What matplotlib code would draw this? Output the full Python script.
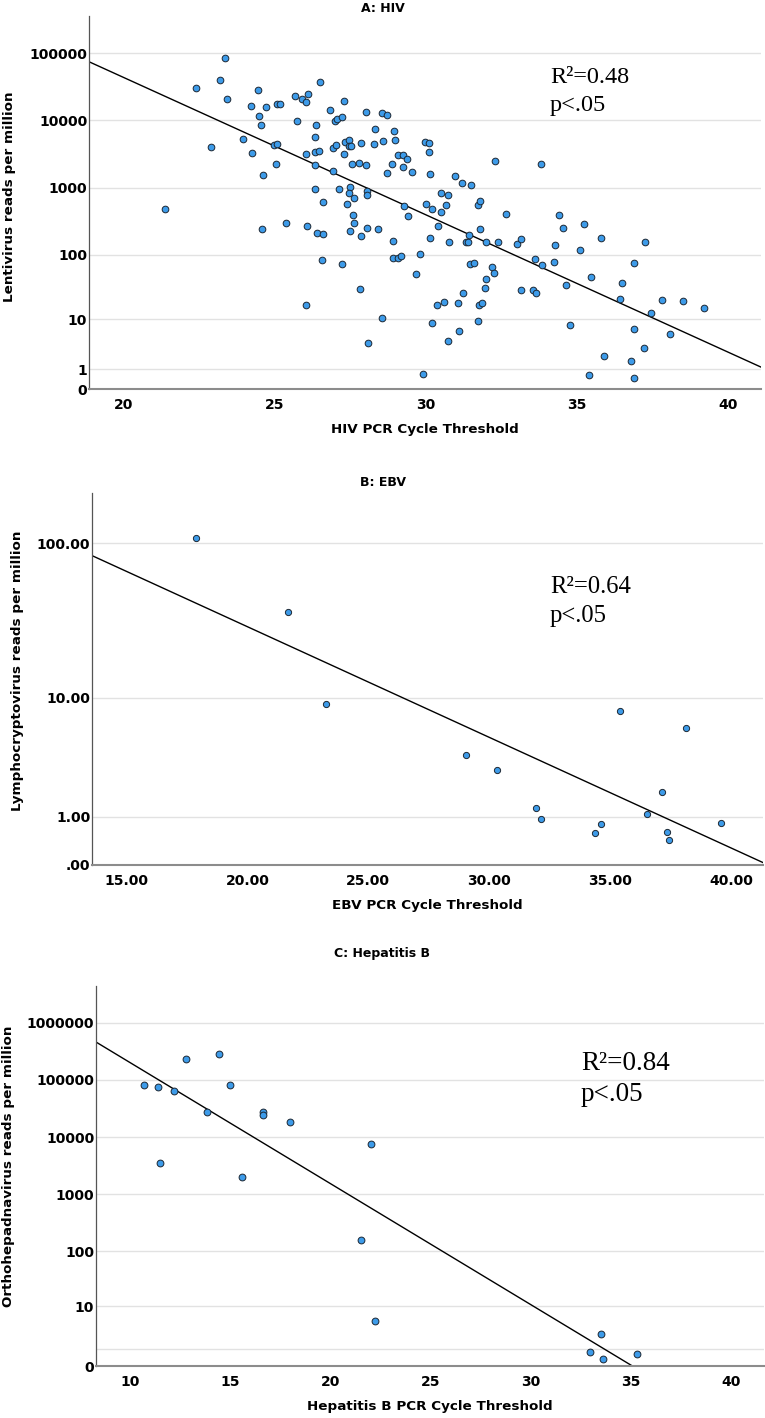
import numpy as np
import matplotlib
matplotlib.use("Agg")
import matplotlib.pyplot as plt

# ---------------- data ----------------
hiv_ct = [23.38, 22.40, 23.19, 23.44, 24.45, 24.24, 24.71, 24.48, 24.55, 25.10,
          25.18, 25.67, 25.91, 26.04, 26.10, 26.50, 25.73, 26.38, 26.34, 26.33,
          26.48, 26.03, 26.84, 27.31, 27.00, 27.07, 27.22, 26.93, 27.04, 27.33,
          27.47, 27.46, 27.52, 27.30, 27.86, 28.02, 28.28, 28.33, 28.56, 28.73,
          28.58, 28.96, 28.98, 28.88, 28.71, 29.09, 28.01, 27.81, 27.56, 26.94,
          26.33, 25.06, 24.98, 25.09, 23.96, 22.90, 24.25, 24.61, 26.35, 27.13,
          27.50, 27.47, 27.63, 27.40, 26.59, 27.60, 28.07, 28.07, 21.39,
          24.60, 25.39, 26.08, 26.40, 26.60, 27.64, 27.49, 27.85, 28.05, 28.43,
          28.92, 28.93, 29.07, 26.57, 27.23, 27.83, 26.05, 28.56, 28.10,
          29.97, 30.12, 30.12, 29.24, 29.39, 29.26, 29.54, 30.13, 32.28, 33.81,
          30.96, 31.19, 31.49, 30.50, 30.73, 30.00, 30.20, 30.49, 30.68, 31.72,
          31.78, 32.65, 34.39, 29.29, 29.42,
          29.19, 29.81, 29.69, 30.13, 30.39, 30.77, 31.33, 31.41, 31.44, 31.80,
          31.98, 32.39, 33.01, 33.14, 31.45, 31.59, 32.20, 32.26, 31.98, 31.97,
          31.24, 30.61, 30.38, 31.06, 31.76, 31.85, 31.73, 30.21, 31.11, 30.73,
          29.90,
          33.60, 33.84, 34.24, 34.27, 34.54, 35.22, 35.09, 35.79, 37.25, 36.88,
          35.47, 34.63, 36.48, 33.14, 33.54, 33.63, 36.41, 37.81, 38.50, 39.19,
          37.43, 34.78, 36.87, 38.08, 37.21, 35.90, 36.77, 35.39, 36.87]
hiv_reads = [86000, 30500, 39600, 20900, 28700, 16300, 16000, 11800, 8660, 17800,
             17800, 23200, 20700, 18700, 24800, 37000, 9730, 8490, 5620, 3430,
             3520, 3200, 14200, 19700, 9730, 10400, 11300, 3940, 4320, 4740,
             5130, 4220, 4130, 3200, 4620, 13200, 4470, 7390, 12800, 11900,
             4950, 6980, 5130, 2250, 1640, 3070, 2180, 2330, 2230, 1790,
             2150, 2270, 4320, 4420, 5250, 4070, 3280, 1560, 956, 946,
             1010, 842, 709, 577, 606, 387, 892, 770, 481,
             242, 294, 271, 209, 202, 298, 223, 192, 253, 244,
             158, 89, 89, 83, 71, 29.8, 17.2, 10.5, 3.9,
             4740, 4670, 3360, 3030, 2700, 2030, 1690, 1610, 2520, 2270,
             1480, 1190, 1090, 834, 778, 577, 481, 439, 552, 546,
             627, 405, 392, 528, 374,
             95, 103, 51.5, 177, 266, 153, 156, 156, 195, 244,
             153, 153, 146, 170, 72, 75, 64, 52, 42.8, 31.2,
             26.1, 18.7, 17.2, 18.4, 16.8, 18.0, 9.3, 8.8, 6.4, 4.2,
             0.67,
             85, 69.8, 76.6, 139, 253, 284, 116, 176, 153, 75,
             46.4, 34.6, 37.2, 29.3, 29.3, 26.4, 20.8, 20.5, 19.6, 15.0,
             12.7, 8.06, 7.0, 5.6, 3.07, 2.10, 1.67, 0.62, 0.46]

ebv_ct = [17.88, 21.66, 23.25, 29.06, 30.31, 31.93, 32.16, 34.37, 34.63, 35.40,
          36.51, 37.13, 37.36, 37.43, 38.16, 39.58]
ebv_reads = [108, 36.5, 9.04, 3.87, 2.91, 1.25, 0.93, 0.59, 0.80, 8.07,
             1.07, 1.84, 0.61, 0.43, 6.17, 0.82]

hbv_ct = [10.70, 11.41, 12.21, 12.81, 14.44, 14.99, 13.84, 16.65, 16.65, 17.99,
          11.48, 15.60, 22.00, 21.52, 22.20, 33.49, 32.97, 33.62, 35.27]
hbv_reads = [81000, 73800, 62800, 227000, 282000, 80000, 27300, 27300, 24500, 18500,
             3560, 2000, 7640, 158, 5.1, 2.57, 0.78, 0.34, 0.64]

titles = ["A: HIV", "B: EBV", "C: Hepatitis B"]
xlabels = ["HIV PCR Cycle Threshold", "EBV PCR Cycle Threshold",
           "Hepatitis B PCR Cycle Threshold"]
ylabels = ["Lentivirus reads per million", "Lymphocryptovirus reads per million",
           "Orthohepadnavirus reads per million"]
stats = [("0.48", "p<.05"), ("0.64", "p<.05"), ("0.84", "p<.05")]

xticks_A = [20, 25, 30, 35, 40]
yticks_A = [0, 1, 10, 100, 1000, 10000, 100000]
ylabs_A = ["0", "1", "10", "100", "1000", "10000", "100000"]
xticks_B = [15, 20, 25, 30, 35, 40]
xlabs_B = ["15.00", "20.00", "25.00", "30.00", "35.00", "40.00"]
yticks_B = [0, 1, 10, 100]
ylabs_B = [".00", "1.00", "10.00", "100.00"]
xticks_C = [10, 15, 20, 25, 30, 35, 40]
yticks_C = [0, 1, 10, 100, 1000, 10000, 100000, 1000000]
ylabs_C = ["0", "", "10", "100", "1000", "10000", "100000", "1000000"]

# ---------------- style ----------------
W, H = 765, 1418
fig = plt.figure(figsize=(W / 100, H / 100), dpi=100)

def fwd(y):
    y = np.asarray(y, dtype=float)
    return np.log10(np.maximum(y, -0.999999) + 1.0)

def inv(t):
    return 10.0 ** np.asarray(t, dtype=float) - 1.0

PT = "#3d9be9"
EDGE = "#1c2733"
label_font = dict(family="DejaVu Sans", weight="bold", size=9.7)
tick_font = dict(family="DejaVu Sans", weight="bold", size=10)

# pixel boxes: left, right, top, bottom
boxes = [(89.3, 761.0, 16.0, 389.3), (92.3, 763.3, 493.3, 865.0), (96.3, 764.0, 985.7, 1366.0)]
xlims = [(18.88, 41.08), (13.58, 41.34), (8.32, 41.63)]
ytops = [5.555, 2.316, 6.643]
title_y = [8, 483, 953]
stat_pos = [(550, 82.7, 17.5), (550, 593.3, 17.7), (581, 1070, 19.5)]
ylab_x = [16.2, 24.5, 15.0]
ylab_y = [0.516, 0.522, 0.524]
msize = [23, 20, 24]

datasets = [(hiv_ct, hiv_reads), (ebv_ct, ebv_reads), (hbv_ct, hbv_reads)]
xt = [(xticks_A, [str(v) for v in xticks_A]), (xticks_B, xlabs_B),
      (xticks_C, [str(v) for v in xticks_C])]
yt = [(yticks_A, ylabs_A), (yticks_B, ylabs_B), (yticks_C, ylabs_C)]

for i in range(3):
    l, r, t, b = boxes[i]
    ax = fig.add_axes([l / W, (H - b) / H, (r - l) / W, (b - t) / H])
    ax.set_yscale("function", functions=(fwd, inv))
    x = np.array(datasets[i][0], dtype=float)
    y = np.array(datasets[i][1], dtype=float)

    # regression on log10(y+1)
    slope, intercept = np.polyfit(x, fwd(y), 1)
    xx = np.linspace(xlims[i][0], xlims[i][1], 200)
    ax.plot(xx, inv(intercept + slope * xx), color="black", lw=1.0, zorder=2)

    ax.scatter(x, y, s=msize[i], facecolor=PT, edgecolor=EDGE, linewidth=0.7, zorder=3)

    ax.set_xlim(*xlims[i])
    ax.set_ylim(0, inv(ytops[i]))
    ax.set_xticks(xt[i][0])
    ax.set_xticklabels(xt[i][1], **tick_font)
    ax.set_yticks(yt[i][0])
    ax.set_yticklabels(yt[i][1], **tick_font)
    ax.minorticks_off()
    ax.tick_params(axis="both", length=0)
    ax.tick_params(axis="x", pad=6.5)
    ax.tick_params(axis="y", pad=1.5)
    ax.yaxis.grid(True, color="#e2e2e2", lw=1.0)
    ax.set_axisbelow(True)
    for s in ("top", "right"):
        ax.spines[s].set_visible(False)
    ax.spines["left"].set_color("#555555")
    ax.spines["left"].set_linewidth(0.9)
    ax.spines["bottom"].set_color("#8c8c8c")
    ax.spines["bottom"].set_linewidth(1.5)

    ax.set_xlabel(xlabels[i], labelpad=8, **label_font)
    ax.set_ylabel(ylabels[i], **label_font)
    ax.yaxis.set_label_coords((ylab_x[i] - l) / (r - l), ylab_y[i])

    fig.text(0.5, 1 - title_y[i] / H, titles[i], ha="center", va="center",
             family="DejaVu Sans", weight="bold", size=9)

    sx, sy, fs = stat_pos[i]
    fig.text(sx / W, 1 - sy / H, "R\u00b2=" + stats[i][0], ha="left", va="baseline",
             family="Liberation Serif", size=fs)
    fig.text(sx / W, 1 - (sy + 28 * fs / 17.5) / H, stats[i][1], ha="left", va="baseline",
             family="Liberation Serif", size=fs)

fig.savefig("out.png", dpi=100)
